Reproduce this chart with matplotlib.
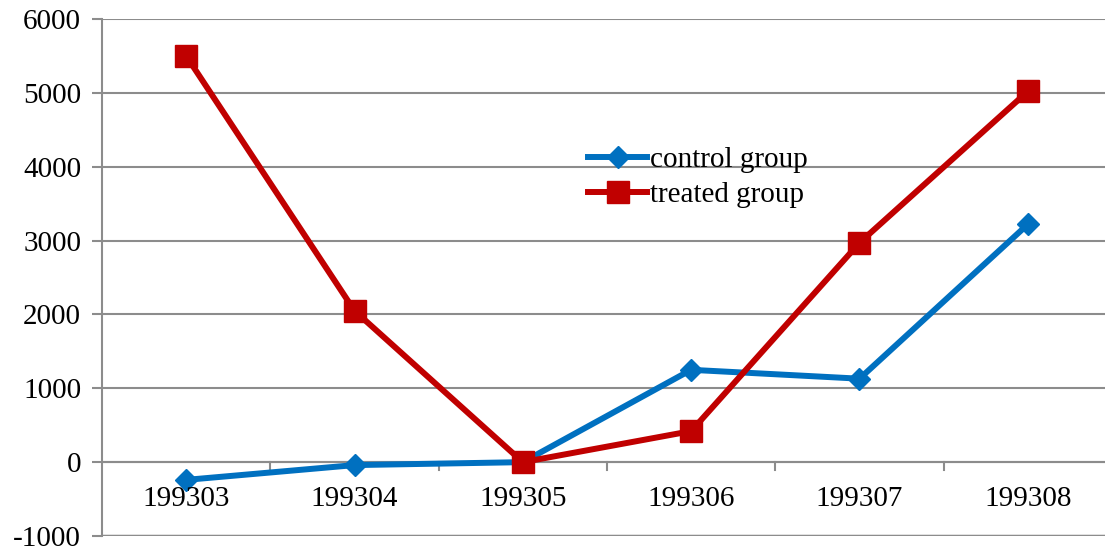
import matplotlib
matplotlib.use("Agg")
import matplotlib.pyplot as plt
from matplotlib.lines import Line2D

months = ["199303", "199304", "199305", "199306", "199307", "199308"]
control = [-240, -40, 0, 1250, 1130, 3220]
treated = [5500, 2050, 0, 420, 2970, 5020]
y_ticks = [-1000, 0, 1000, 2000, 3000, 4000, 5000, 6000]

plt.rcParams['font.family'] = ['Liberation Serif', 'DejaVu Serif']

fig = plt.figure(figsize=(11.05, 5.5), dpi=100)
ax = fig.add_axes([102 / 1105, 14 / 550, 1010 / 1105, 517 / 550])

x = list(range(len(months)))
ax.plot(x, control, "-D", color="#0070C0", lw=4.3, ms=11, label="control group", zorder=3)
ax.plot(x, treated, "-s", color="#C00000", lw=4.3, ms=16, label="treated group", zorder=3)

ax.set_ylim(-1000, 6000)
ax.set_xlim(-0.5, 5.5)
ax.set_yticks(y_ticks)
ax.set_yticklabels([str(v) for v in y_ticks], fontsize=21)
ax.yaxis.grid(True, color="#8c8c8c", lw=1.5)
ax.set_axisbelow(True)

for s in ["top", "right", "bottom"]:
    ax.spines[s].set_visible(False)
ax.spines["left"].set_color("#8c8c8c")
ax.spines["left"].set_linewidth(1.5)
ax.tick_params(axis="y", length=7, width=1.5, color="#8c8c8c", pad=8)

# category axis sits on the zero line, ticks between categories
ax.set_xticks([i + 0.5 for i in x[:-1]])
ax.set_xticklabels([])
ax.tick_params(axis="x", length=0)
ax.axhline(0, color="#8c8c8c", lw=1.5, zorder=1)
for i in x[:-1]:
    ax.plot([i + 0.5, i + 0.5], [0, -100], color="#8c8c8c", lw=1.5, zorder=1, clip_on=False)
ax.axhline(-1000, color="#8c8c8c", lw=2.5, zorder=1)
for i, m in enumerate(months):
    ax.text(i, -500, m, ha="center", va="center", fontsize=21)

handles = [Line2D([0], [0], color="#0070C0", lw=4.3, marker="D", ms=11),
           Line2D([0], [0], color="#C00000", lw=4.3, marker="s", ms=16)]
ax.legend(handles, ["control group", "treated group"], loc="upper left",
          bbox_to_anchor=(0.47, 0.776), frameon=False, fontsize=21,
          handlelength=2.0, handletextpad=0.1, labelspacing=0.3, borderaxespad=0)

fig.savefig("out.png", dpi=100)
